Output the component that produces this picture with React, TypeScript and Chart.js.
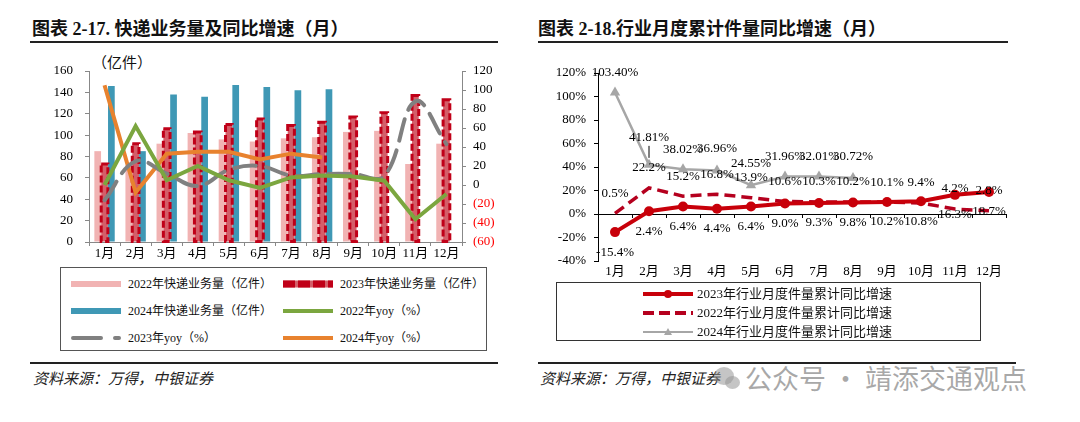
import React, { useEffect, useRef } from "react";
import { Chart, registerables } from "chart.js";
Chart.register(...registerables);

// ---------- data ----------
const months = ["1月", "2月", "3月", "4月", "5月", "6月", "7月", "8月", "9月", "10月", "11月", "12月"];

// left chart: express volume (亿件) and yoy (%)
const vol2022 = [85, 72, 92, 102, 96, 94, 97, 98, 103, 104, 73, 92];
const vol2023 = [73, 92, 106, 103, 110, 115, 109, 112, 117, 121, 137, 133];
const vol2024 = [146, 85, 138, 136, 147, 145, 142, 143, null, null, null, null];
const yoy2022 = [0, 62, 5, 20, 5, -3, 8, 10, 9, 4.5, -36, -9.5];
const yoy2023 = [-16, 25, 12, -1, 16, 20, 10, 11.5, 11.5, 9.5, 88, 43];
const yoy2024 = [105, -8, 33, 35, 35, 27, 33, 29, null, null, null, null];

// right chart: cumulative yoy (%)
const cum2023 = [-15.4, 2.4, 6.4, 4.4, 6.4, 9.0, 9.3, 9.8, 10.2, 10.8, 16.3, 18.7];
const cum2022 = [0.5, 22.2, 15.2, 16.8, 13.9, 10.6, 10.3, 10.2, 10.1, 9.4, 4.2, 2.8];
const cum2024 = [103.4, 41.81, 38.02, 36.96, 24.55, 31.96, 32.01, 30.72, null, null, null, null];

const leftTicks = { min: 0, max: 160, step: 20 };
const rightTicks = { min: -60, max: 120, step: 20 };
const cumTicks = { min: -40, max: 120, step: 20 };

// ---------- styles ----------
const SERIF = "'Liberation Serif', 'Noto Sans CJK SC', serif";
const CJK = "'Noto Sans CJK SC', sans-serif";
const C_PINK = "#F1B3B3";
const C_RED23 = "#D45E69";
const C_RED23_BORDER = "#C00018";
const C_TEAL = "#3F98B5";
const C_GREEN = "#7BA63F";
const C_GRAY = "#808080";
const C_ORANGE = "#E8822E";
const C_RED = "#C8000A";
const C_RED_DASH = "#B5001E";
const C_LGRAY = "#A6A6A6";

const dashedBarPlugin = {
  id: "dashedBar",
  beforeDatasetsDraw(chart: any) {
    chart.$dashDone = false;
  },
  beforeDatasetDraw(chart: any, args: any) {
    const ds = chart.data.datasets[args.index];
    if (chart.$dashDone || ds.type !== "line") return;
    chart.$dashDone = true;
    chart.data.datasets.forEach((d: any, di: number) => {
      if (!d.dashedBorder) return;
      const meta = chart.getDatasetMeta(di);
      const ctx = chart.ctx;
      ctx.save();
      ctx.strokeStyle = d.dashedBorder;
      ctx.lineWidth = 3;
      ctx.setLineDash([7, 3]);
      meta.data.forEach((el: any) => {
        const w = el.width;
        const h = el.base - el.y;
        if (!isFinite(h) || h <= 0) return;
        ctx.strokeRect(el.x - w / 2, el.y, w, h);
      });
      ctx.restore();
    });
  },
};

const pointLabelPlugin = {
  id: "pointLabels",
  afterDatasetsDraw(chart: any) {
    const ctx = chart.ctx;
    ctx.save();
    ctx.font = "13px " + SERIF;
    ctx.fillStyle = "#000";
    ctx.textAlign = "center";
    ctx.textBaseline = "middle";
    chart.data.datasets.forEach((ds: any, di: number) => {
      const meta = chart.getDatasetMeta(di);
      meta.data.forEach((el: any, i: number) => {
        const v = ds.data[i];
        if (v == null) return;
        const off = ds.labelShift ? ds.labelShift[i] : ds.labelOffset;
        ctx.fillText(v.toFixed(ds.labelDecimals) + "%", el.x, el.y + off);
        if (ds.leaderAt === i) {
          ctx.strokeStyle = "#000";
          ctx.lineWidth = 1;
          ctx.beginPath();
          ctx.moveTo(el.x, el.y + off + 8);
          ctx.lineTo(el.x, el.y - 7);
          ctx.stroke();
        }
      });
    });
    ctx.restore();
  },
  afterDraw(chart: any) {
    const xs = chart.scales.x;
    const y0 = chart.scales.y.getPixelForValue(0);
    const ctx = chart.ctx;
    ctx.save();
    ctx.strokeStyle = "#000";
    ctx.lineWidth = 1;
    const n = chart.data.labels.length;
    for (let i = 0; i <= n; i++) {
      const px = Math.round(xs.left + (i * (xs.right - xs.left)) / n) + 0.5;
      ctx.beginPath();
      ctx.moveTo(px, y0);
      ctx.lineTo(px, y0 + 4);
      ctx.stroke();
    }
    ctx.restore();
  },
};

function LeftChart() {
  const ref = useRef<HTMLCanvasElement | null>(null);
  useEffect(() => {
    if (!ref.current) return;
    const tickFont = { family: SERIF, size: 13 };
    const chart = new Chart(ref.current, {
      type: "bar",
      data: {
        labels: months,
        datasets: [
          { type: "line", label: "2022年yoy（%）", data: yoy2022, yAxisID: "y1", borderColor: C_GREEN, borderWidth: 4, pointRadius: 0, tension: 0, order: 0 } as any,
          { type: "line", label: "2023年yoy（%）", data: yoy2023, yAxisID: "y1", borderColor: C_GRAY, borderWidth: 4, borderDash: [22, 10], borderCapStyle: "round", pointRadius: 0, tension: 0.4, order: 0 } as any,
          { type: "line", label: "2024年yoy（%）", data: yoy2024, yAxisID: "y1", borderColor: C_ORANGE, borderWidth: 4, pointRadius: 0, tension: 0, order: 0 } as any,
          { type: "bar", label: "2022年快递业务量（亿件）", data: vol2022, yAxisID: "y", backgroundColor: C_PINK, order: 1 } as any,
          { type: "bar", label: "2023年快递业务量（亿件）", data: vol2023, yAxisID: "y", backgroundColor: C_RED23, dashedBorder: C_RED23_BORDER, order: 1 } as any,
          { type: "bar", label: "2024年快递业务量（亿件）", data: vol2024, yAxisID: "y", backgroundColor: C_TEAL, order: 1 } as any,
        ],
      },
      options: {
        responsive: false,
        animation: false,
        datasets: { bar: { categoryPercentage: 0.66, barPercentage: 0.98 } } as any,
        layout: { padding: { top: 21, left: 0, right: 0, bottom: 0 } },
        plugins: { legend: { display: false }, tooltip: { enabled: false } },
        scales: {
          x: {
            grid: { display: true, drawOnChartArea: false, color: "#888", tickLength: 4, offset: true },
            border: { color: "#888" },
            ticks: { font: tickFont, color: "#000", padding: 0, maxRotation: 0, autoSkip: false },
            afterFit: (s: any) => { s.height = 23; },
          },
          y: {
            position: "left",
            min: leftTicks.min, max: leftTicks.max,
            ticks: { stepSize: leftTicks.step, font: tickFont, color: "#000", padding: 12 },
            grid: { drawOnChartArea: false, color: "#888", tickLength: 4 },
            border: { color: "#888" },
            afterFit: (s: any) => { s.width = 59; },
          },
          y1: {
            position: "right",
            min: rightTicks.min, max: rightTicks.max,
            ticks: {
              stepSize: rightTicks.step, font: tickFont, padding: 7,
              color: (c: any) => (c.tick && c.tick.value < 0 ? "#FF0000" : "#000"),
              callback: (v: any) => (v < 0 ? "(" + -v + ")" : String(v)),
            },
            grid: { drawOnChartArea: false, color: "#888", tickLength: 4 },
            border: { color: "#888" },
            afterFit: (s: any) => { s.width = 38; },
          },
        },
      } as any,
      plugins: [dashedBarPlugin],
    });
    return () => chart.destroy();
  }, []);
  return <canvas ref={ref} width={470} height={215} style={{ position: "absolute", left: 30, top: 50, width: 470, height: 215 }} />;
}

function RightChart() {
  const ref = useRef<HTMLCanvasElement | null>(null);
  useEffect(() => {
    if (!ref.current) return;
    const tickFont = { family: SERIF, size: 13 };
    const chart = new Chart(ref.current, {
      type: "line",
      data: {
        labels: months,
        datasets: [
          { label: "2023年行业月度件量累计同比增速", data: cum2023, borderColor: C_RED, backgroundColor: C_RED, borderWidth: 4, pointRadius: 5, pointBackgroundColor: C_RED, pointBorderWidth: 0, tension: 0, order: 0, labelOffset: 20, labelDecimals: 1 } as any,
          { label: "2022年行业月度件量累计同比增速", data: cum2022, borderColor: C_RED_DASH, borderWidth: 3.5, borderDash: [11, 6], pointRadius: 0, tension: 0, order: 1, labelOffset: -20, labelDecimals: 1 } as any,
          { label: "2024年行业月度件量累计同比增速", data: cum2024, borderColor: C_LGRAY, backgroundColor: C_LGRAY, borderWidth: 2.5, pointStyle: "triangle", pointRadius: 6, pointBackgroundColor: C_LGRAY, pointBorderWidth: 0, tension: 0, order: 2, labelOffset: -20, labelShift: [-20, -27, -20, -22, -22, -20, -20, -21], leaderAt: 1, labelDecimals: 2 } as any,
        ],
      },
      options: {
        responsive: false,
        animation: false,
        layout: { padding: { top: 18, left: 0, right: 9, bottom: 6 } },
        plugins: { legend: { display: false }, tooltip: { enabled: false } },
        scales: {
          x: {
            offset: true,
            grid: { display: false, drawTicks: false },
            border: { display: false },
            ticks: { font: tickFont, color: "#000", padding: 3, maxRotation: 0, autoSkip: false },
            afterFit: (s: any) => { s.height = 19; },
          },
          y: {
            min: cumTicks.min, max: cumTicks.max,
            ticks: { stepSize: cumTicks.step, font: tickFont, color: "#000", padding: 8, callback: (v: any) => v + "%" },
            grid: {
              drawOnChartArea: true, tickLength: 4, tickColor: "#000",
              color: (c: any) => (c.tick && c.tick.value === 0 ? "#000" : "rgba(0,0,0,0)"),
            },
            border: { color: "#000" },
            afterFit: (s: any) => { s.width = 63; },
          },
        },
      } as any,
      plugins: [pointLabelPlugin],
    });
    return () => chart.destroy();
  }, []);
  return <canvas ref={ref} width={480} height={231} style={{ position: "absolute", left: 535, top: 55, width: 480, height: 231 }} />;
}

function Sample({ kind }: { kind: string }) {
  const w = 50;
  const h = 12;
  const m = h / 2;
  let el: any = null;
  if (kind === "pink") el = <rect x={0} y={m - 3} width={w} height={6} fill={C_PINK} />;
  if (kind === "red23")
    el = (
      <g>
        <rect x={0} y={m - 3.5} width={w} height={7} fill={C_RED23} />
        <line x1={0} y1={m} x2={w} y2={m} stroke={C_RED23_BORDER} strokeWidth={7} strokeDasharray="12 3" />
      </g>
    );
  if (kind === "teal") el = <rect x={0} y={m - 3} width={w} height={6} fill={C_TEAL} />;
  if (kind === "green") el = <line x1={0} y1={m} x2={w} y2={m} stroke={C_GREEN} strokeWidth={4} />;
  if (kind === "gray") el = <line x1={2} y1={m} x2={w - 2} y2={m} stroke={C_GRAY} strokeWidth={4} strokeDasharray="28 14" strokeLinecap="round" />;
  if (kind === "orange") el = <line x1={0} y1={m} x2={w} y2={m} stroke={C_ORANGE} strokeWidth={4} />;
  if (kind === "c23")
    el = (
      <g>
        <line x1={0} y1={m} x2={w} y2={m} stroke={C_RED} strokeWidth={4} />
        <circle cx={w / 2} cy={m} r={4} fill={C_RED} />
      </g>
    );
  if (kind === "c22") el = <line x1={0} y1={m} x2={w} y2={m} stroke={C_RED_DASH} strokeWidth={4} strokeDasharray="11 5" />;
  if (kind === "c24")
    el = (
      <g>
        <line x1={0} y1={m} x2={w} y2={m} stroke={C_LGRAY} strokeWidth={2} />
        <polygon points={`${w / 2 - 4},${m + 3} ${w / 2 + 4},${m + 3} ${w / 2},${m - 4}`} fill={C_LGRAY} />
      </g>
    );
  return (
    <svg width={w} height={h} style={{ display: "block" }}>
      {el}
    </svg>
  );
}

const leftLegend = [
  { kind: "pink", text: "2022年快递业务量（亿件）", col: 0, row: 0 },
  { kind: "red23", text: "2023年快递业务量（亿件）", col: 1, row: 0 },
  { kind: "teal", text: "2024年快递业务量（亿件）", col: 0, row: 1 },
  { kind: "green", text: "2022年yoy（%）", col: 1, row: 1 },
  { kind: "gray", text: "2023年yoy（%）", col: 0, row: 2 },
  { kind: "orange", text: "2024年yoy（%）", col: 1, row: 2 },
];

const rightLegend = [
  { kind: "c23", text: "2023年行业月度件量累计同比增速" },
  { kind: "c22", text: "2022年行业月度件量累计同比增速" },
  { kind: "c24", text: "2024年行业月度件量累计同比增速" },
];

export default function App() {
  useEffect(() => {
    document.body.style.margin = "0";
    document.body.style.background = "#fff";
  }, []);
  const abs: any = { position: "absolute", whiteSpace: "nowrap" };
  return (
    <div style={{ position: "relative", width: 1080, height: 422, background: "#fff", overflow: "hidden" }}>
      {/* titles */}
      <div style={{ ...abs, left: 32, top: 18, fontFamily: SERIF, fontWeight: 700, fontSize: 18, lineHeight: "22px", color: "#111" }}>
        图表 2-17. 快递业务量及同比增速（月）
      </div>
      <div style={{ ...abs, left: 30, top: 41, width: 468, height: 2, background: "#222" }} />
      <div style={{ ...abs, left: 538, top: 18, fontFamily: SERIF, fontWeight: 700, fontSize: 18, lineHeight: "22px", color: "#111" }}>
        图表 2-18.行业月度累计件量同比增速（月）
      </div>
      <div style={{ ...abs, left: 538, top: 41, width: 470, height: 2, background: "#222" }} />

      <div style={{ ...abs, left: 92, top: 53, fontFamily: SERIF, fontSize: 15, lineHeight: "20px", color: "#111" }}>（亿件）</div>

      <LeftChart />
      <RightChart />

      {/* left legend */}
      <div style={{ ...abs, left: 60, top: 267, width: 425, height: 82, border: "1px solid #555" }}>
        {leftLegend.map((it, i) => (
          <div key={i} style={{ position: "absolute", left: it.col === 0 ? 10 : 222, top: 16 + it.row * 27 - 8, height: 16, display: "flex", alignItems: "center" }}>
            <Sample kind={it.kind} />
            <span style={{ marginLeft: 7, fontFamily: SERIF, fontSize: 12, lineHeight: "16px", color: "#111" }}>{it.text}</span>
          </div>
        ))}
      </div>

      {/* right legend */}
      <div style={{ ...abs, left: 556, top: 282, width: 423, height: 57, border: "1px solid #333" }}>
        {rightLegend.map((it, i) => (
          <div key={i} style={{ position: "absolute", left: 86, top: 11 + i * 19 - 8, height: 16, display: "flex", alignItems: "center" }}>
            <Sample kind={it.kind} />
            <span style={{ marginLeft: 4, fontFamily: SERIF, fontSize: 13, lineHeight: "16px", color: "#111" }}>{it.text}</span>
          </div>
        ))}
      </div>

      {/* bottom rules and sources */}
      <div style={{ ...abs, left: 30, top: 362, width: 468, height: 1.5, background: "#222" }} />
      <div style={{ ...abs, left: 538, top: 362, width: 478, height: 1.5, background: "#222" }} />
      <div style={{ ...abs, left: 33, top: 368, fontFamily: CJK, fontStyle: "italic", fontSize: 15, lineHeight: "20px", color: "#222" }}>资料来源：万得，中银证券</div>
      <div style={{ ...abs, left: 540, top: 368, fontFamily: CJK, fontStyle: "italic", fontSize: 15, lineHeight: "20px", color: "#222" }}>资料来源：万得，中银证券</div>

      {/* watermark */}
      <div style={{ ...abs, left: 714, top: 367, width: 20, height: 18, borderRadius: "50%", background: "rgba(150,150,150,0.55)" }} />
      <div style={{ ...abs, left: 725, top: 376, width: 15, height: 13, borderRadius: "50%", background: "rgba(150,150,150,0.55)" }} />
      <div style={{ ...abs, left: 745, top: 361, fontFamily: CJK, fontSize: 27, lineHeight: "34px", color: "rgba(140,140,140,0.75)" }}>公众号 · 靖添交通观点</div>
    </div>
  );
}
